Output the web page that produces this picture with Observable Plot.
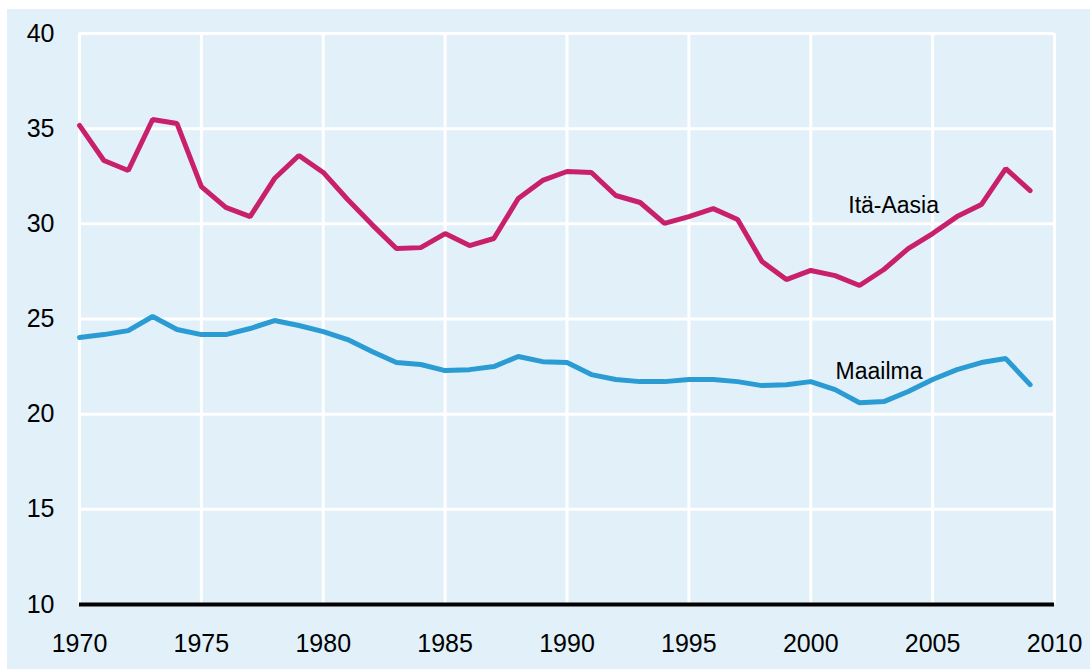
<!DOCTYPE html>
<html>
<head>
<meta charset="utf-8">
<script src="https://cdn.jsdelivr.net/npm/d3@7"></script>
<script src="https://cdn.jsdelivr.net/npm/@observablehq/plot@0.6"></script>
<style>
  html, body { margin: 0; padding: 0; background: #ffffff; }
  #wrap { padding: 9px 0 0 7px; width: 1083px; height: 660px; }
  #wrap svg { background: #e1f0f9; display: block; }
</style>
</head>
<body>
<div id="wrap"></div>
<script>
const years = d3.range(1970, 2010);
const itaAasia = [35.17, 33.33, 32.8, 35.48, 35.27, 31.96, 30.86, 30.38, 32.38, 33.59,
  32.7, 31.28, 29.96, 28.7, 28.75, 29.49, 28.86, 29.23, 31.33, 32.28,
  32.75, 32.7, 31.49, 31.12, 30.02, 30.38, 30.8, 30.23, 28.02, 27.07,
  27.55, 27.28, 26.76, 27.6, 28.7, 29.49, 30.38, 31.01, 32.9, 31.75];
const maailma = [24.03, 24.18, 24.39, 25.13, 24.45, 24.18, 24.18, 24.5, 24.92, 24.66,
  24.34, 23.92, 23.29, 22.71, 22.61, 22.29, 22.34, 22.5, 23.03, 22.76,
  22.71, 22.08, 21.82, 21.71, 21.71, 21.82, 21.82, 21.71, 21.5, 21.55,
  21.71, 21.29, 20.6, 20.66, 21.19, 21.82, 22.34, 22.71, 22.92, 21.55];
const xTicks = [1970, 1975, 1980, 1985, 1990, 1995, 2000, 2005, 2010];
const yTicks = [10, 15, 20, 25, 30, 35, 40];
const seriesNames = ["Itä-Aasia", "Maailma"];
const seriesColors = ["#c8206b", "#2a9bd3"];
const labelYears = [2003.4, 2002.8];
const labelValues = [30.96, 22.24];

const rows = [];
years.forEach((y, i) => {
  rows.push({year: y, value: itaAasia[i], series: seriesNames[0]});
  rows.push({year: y, value: maailma[i], series: seriesNames[1]});
});
const labels = seriesNames.map((n, i) => ({name: n, year: labelYears[i], value: labelValues[i]}));

const chart = Plot.plot({
  width: 1083,
  height: 660,
  marginLeft: 72,
  marginRight: 36,
  marginTop: 24,
  marginBottom: 65,
  style: {fontFamily: "'Liberation Sans', Arial, sans-serif", fontSize: "25px", color: "#000", background: "#e1f0f9"},
  x: {domain: [1970, 2010], ticks: xTicks, tickFormat: d => String(d), tickSize: 0, tickPadding: 30, label: null},
  y: {domain: [10, 40], ticks: yTicks, tickSize: 0, tickPadding: 25, label: null},
  color: {domain: seriesNames, range: seriesColors},
  marks: [
    Plot.ruleX(xTicks, {stroke: "#ffffff", strokeWidth: 3}),
    Plot.ruleY(yTicks, {stroke: "#ffffff", strokeWidth: 3}),
    Plot.ruleY([10], {stroke: "#000000", strokeWidth: 4}),
    Plot.line(rows, {x: "year", y: "value", z: "series", stroke: "series", strokeWidth: 5, strokeLinejoin: "miter"}),
    Plot.text(labels, {x: "year", y: "value", text: "name", fontSize: 23, fill: "#000", textAnchor: "middle"})
  ]
});
document.getElementById("wrap").appendChild(chart);
</script>
</body>
</html>
